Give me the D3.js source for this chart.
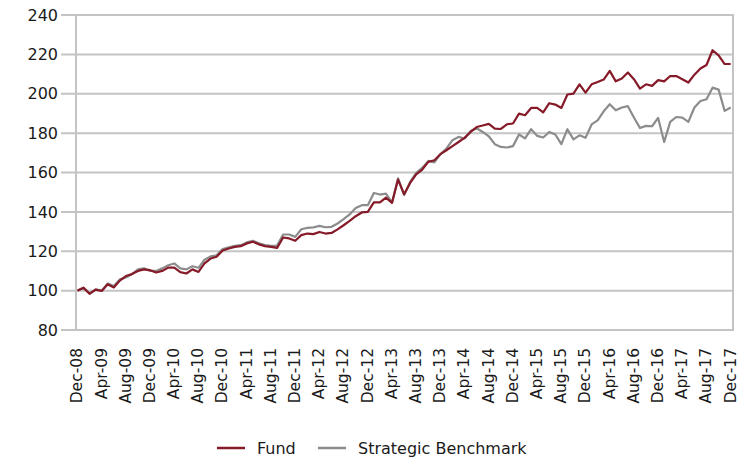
<!DOCTYPE html>
<html>
<head>
<meta charset="utf-8">
<script src="https://cdn.jsdelivr.net/npm/d3@7"></script>
<style>
  html, body { margin: 0; padding: 0; background: #fff; }
  svg { display: block; font-family: "DejaVu Sans", Verdana, sans-serif; }
</style>
</head>
<body>
<svg id="chart" width="739" height="459"></svg>
<script>
// Monthly index values, Dec-08 = 100, through Dec-17
const fund = [
  100.0, 101.4, 98.4, 100.5, 99.8, 103.2, 101.6, 105.1, 107.4, 108.4, 110.0, 110.8,
  110.4, 109.2, 110.0, 111.7, 111.7, 109.4, 108.7, 110.8, 109.5, 113.8, 116.3, 117.2,
  120.4, 121.4, 122.2, 122.6, 124.0, 124.8, 123.5, 122.6, 122.2, 121.7, 127.0, 126.5,
  125.3, 128.2, 129.0, 128.7, 129.8, 129.0, 129.3, 131.1, 133.2, 135.4, 137.8, 139.7,
  140.0, 144.8, 144.8, 147.2, 144.6, 156.4, 149.0, 154.7, 159.0, 161.5, 165.4, 166.2,
  169.3, 171.3, 173.4, 175.5, 177.6, 180.6, 183.1, 183.9, 184.7, 182.3, 182.1, 184.5,
  184.9, 189.9, 189.1, 192.8, 192.8, 190.5, 195.2, 194.5, 192.8, 199.6, 200.1, 204.8,
  200.6, 204.8, 206.0, 207.2, 211.6, 206.3, 207.7, 210.8, 207.4, 202.6, 204.8, 204.0,
  206.9, 206.3, 209.0, 209.0, 207.4, 205.7, 209.7, 212.8, 214.6, 222.1, 219.5, 215.1,
  215.1
];
const benchmark = [
  100.0, 101.5, 98.5, 100.6, 100.0, 103.6, 102.3, 105.7, 106.7, 108.4, 110.8, 111.3,
  110.0, 110.0, 111.3, 112.9, 113.8, 111.3, 110.8, 112.4, 111.6, 115.7, 117.4, 117.9,
  121.1, 122.0, 122.7, 123.1, 124.5, 125.3, 124.0, 123.1, 122.7, 122.9, 128.5, 128.5,
  127.3, 131.2, 131.9, 132.1, 132.9, 132.2, 132.4, 134.1, 136.3, 138.7, 142.0, 143.4,
  143.4, 149.6, 148.8, 149.3, 144.7, 157.0, 148.5, 155.2, 159.8, 162.3, 165.9, 165.1,
  169.3, 172.2, 176.4, 178.1, 177.3, 181.1, 182.5, 180.6, 178.4, 174.4, 173.0, 172.7,
  173.4, 179.3, 177.3, 182.0, 178.6, 177.8, 180.6, 179.3, 174.4, 182.0, 176.8, 178.9,
  177.6, 184.4, 186.5, 191.1, 194.7, 191.6, 193.0, 193.7, 187.9, 182.6, 183.7, 183.5,
  187.7, 175.5, 185.7, 188.2, 187.9, 185.7, 193.0, 196.3, 197.2, 203.1, 202.1, 191.3,
  193.0
];
// Category labels, one every four months
const tickLabels = [
  "Dec-08", "Apr-09", "Aug-09", "Dec-09", "Apr-10", "Aug-10", "Dec-10",
  "Apr-11", "Aug-11", "Dec-11", "Apr-12", "Aug-12", "Dec-12", "Apr-13",
  "Aug-13", "Dec-13", "Apr-14", "Aug-14", "Dec-14", "Apr-15", "Aug-15",
  "Dec-15", "Apr-16", "Aug-16", "Dec-16", "Apr-17", "Aug-17", "Dec-17"
];
const yTicks = [80, 100, 120, 140, 160, 180, 200, 220, 240];
const seriesNames = ["Fund", "Strategic Benchmark"];
const seriesColors = ["#861a28", "#8c8c8c"];

const svg = d3.select("#chart");
const plot = { left: 76, right: 733, top: 15, bottom: 330 };

const x = d3.scaleLinear()
  .domain([0, fund.length - 1])
  .range([77.5, 730.7]);
const y = d3.scaleLinear()
  .domain([80, 240])
  .range([plot.bottom, plot.top]);

const gridColor = "#c4c4c4";
const textColor = "#1a1a1a";

// Horizontal gridlines with short stubs left of the axis
svg.append("g")
  .selectAll("line")
  .data(yTicks)
  .join("line")
  .attr("x1", 61)
  .attr("x2", plot.right)
  .attr("y1", d => y(d))
  .attr("y2", d => y(d))
  .attr("stroke", gridColor)
  .attr("stroke-width", 2);

// Left axis and right frame edge
svg.append("line")
  .attr("x1", plot.left).attr("x2", plot.left)
  .attr("y1", plot.top - 1).attr("y2", plot.bottom + 1)
  .attr("stroke", gridColor).attr("stroke-width", 2);
svg.append("line")
  .attr("x1", plot.right).attr("x2", plot.right)
  .attr("y1", plot.top - 1).attr("y2", plot.bottom + 1)
  .attr("stroke", gridColor).attr("stroke-width", 2);

// Y axis labels
const yAxis = d3.axisLeft(y).tickValues(yTicks).tickSize(0).tickPadding(0);
const gy = svg.append("g")
  .attr("transform", `translate(58,0)`)
  .call(yAxis);
gy.select(".domain").remove();
gy.selectAll("text")
  .attr("fill", textColor)
  .style("font-size", "16px")
  .style("font-family", "'DejaVu Sans', Verdana, sans-serif");

// X axis labels, rotated
const tickIdx = d3.range(0, fund.length, 4);
const xAxis = d3.axisBottom(x)
  .tickValues(tickIdx)
  .tickSize(0)
  .tickFormat((d, i) => tickLabels[i]);
const gx = svg.append("g")
  .attr("transform", `translate(0,${plot.bottom})`)
  .call(xAxis);
gx.select(".domain").remove();
gx.selectAll("text")
  .attr("fill", textColor)
  .style("font-size", "15.5px")
  .style("font-family", "'DejaVu Sans', Verdana, sans-serif")
  .attr("text-anchor", "end")
  .attr("dy", "0.28em")
  .attr("x", -18)
  .attr("y", 0)
  .attr("transform", "rotate(-90)");

// Series lines
const line = d3.line()
  .x((d, i) => x(i))
  .y(d => y(d));

[benchmark, fund].forEach((series, k) => {
  const color = k === 0 ? seriesColors[1] : seriesColors[0];
  svg.append("path")
    .datum(series)
    .attr("fill", "none")
    .attr("stroke", color)
    .attr("stroke-width", 2.2)
    .attr("stroke-linejoin", "round")
    .attr("d", line);
});

// Legend
const legend = svg.append("g").attr("transform", "translate(0,448)");
const legendItems = [
  { name: seriesNames[0], color: seriesColors[0], x0: 217 },
  { name: seriesNames[1], color: seriesColors[1], x0: 318 }
];
legendItems.forEach(item => {
  legend.append("line")
    .attr("x1", item.x0).attr("x2", item.x0 + 28)
    .attr("y1", 0).attr("y2", 0)
    .attr("stroke", item.color).attr("stroke-width", 2.5);
  legend.append("text")
    .attr("x", item.x0 + 40)
    .attr("y", 0)
    .attr("dy", "0.35em")
    .attr("fill", textColor)
    .style("font-size", "16px")
    .text(item.name);
});
</script>
</body>
</html>
